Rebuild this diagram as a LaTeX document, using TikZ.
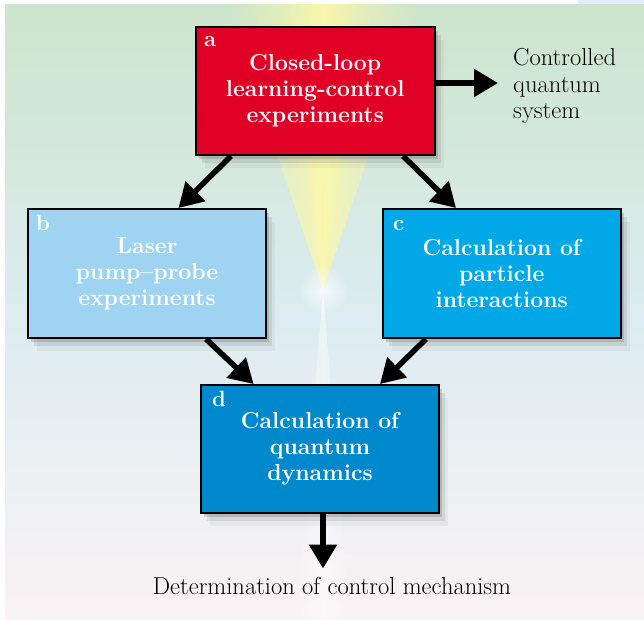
\documentclass[tikz,border=0pt]{standalone}
\usetikzlibrary{arrows.meta,shadows,fadings,calc}
\definecolor{redbox}{RGB}{224,0,37}
\definecolor{bbox}{RGB}{158,212,242}
\definecolor{cbox}{RGB}{0,168,232}
\definecolor{dbox}{RGB}{0,136,204}
\definecolor{bgtop}{RGB}{204,229,204}
\definecolor{bgmid}{RGB}{220,236,240}
\definecolor{bgbot}{RGB}{250,243,244}
\definecolor{beam}{RGB}{252,248,170}
\definecolor{corner}{RGB}{225,238,248}
\tikzfading[name=beamfade, left color=transparent!100, right color=transparent!100, middle color=transparent!0]
\tikzfading[name=glowfade, inner color=transparent!0, outer color=transparent!100]
\begin{document}
\begin{tikzpicture}[x=1pt,y=-1pt,
  shadowed/.style={
    drop shadow={shadow xshift=3pt,shadow yshift=-4pt,opacity=.22,fill=black!70},
    drop shadow={shadow xshift=6pt,shadow yshift=-8pt,opacity=.14,fill=black!60},
    drop shadow={shadow xshift=9pt,shadow yshift=-13pt,opacity=.07,fill=black!60}},
  stagebox/.style={draw=black, line width=2pt, shadowed, text=white, align=center,
    font=\fontsize{23}{26}\selectfont\bfseries, inner sep=0pt},
  letterlab/.style={text=white, font=\fontsize{22}{26}\selectfont\bfseries, inner sep=0pt, anchor=base west},
  plain/.style={text=black, font=\fontsize{24.5}{26.5}\selectfont, inner sep=0pt},
  bigarrow/.style={line width=5.5pt, -{Triangle[width=27pt,length=24pt]}}]
% background
\useasboundingbox (0,0) rectangle (644,619);
\fill[white] (0,0) rectangle (644,619);
\shade[top color=bgtop, bottom color=bgbot, middle color=bgmid] (5,4) rectangle (644,619);
\fill[corner] (578,0) rectangle (644,4);
\fill[beam, opacity=.8, path fading=beamfade] (323,290) -- (226,4) -- (420,4) -- cycle;
\fill[beam, opacity=.6, path fading=beamfade] (323,290) -- (283,4) -- (363,4) -- cycle;
\fill[white, opacity=.45, path fading=beamfade] (323,290) -- (296,619) -- (350,619) -- cycle;
\fill[white, opacity=.7, path fading=glowfade] (323,290) circle (26);

% boxes
\node[stagebox, fill=redbox, minimum width=238.5pt, minimum height=128pt] (a) at (315.25,91)
  {Closed-loop\\learning-control\\experiments};
\node[stagebox, fill=bbox, minimum width=238pt, minimum height=129pt] (b) at (147,273.5)
  {Laser\\pump--probe\\experiments};
\node[stagebox, fill=cbox, minimum width=237.5pt, minimum height=129pt] (c) at (501.75,273.5)
  {Calculation of\\particle\\interactions};
\node[stagebox, fill=dbox, minimum width=238pt, minimum height=128pt] (d) at (320,449)
  {Calculation of\\quantum\\dynamics};

\node[letterlab] (la) at ([xshift=9pt,yshift=-20pt]a.north west) {a};
\node[letterlab] (lb) at ([xshift=9pt,yshift=-22pt]b.north west) {b};
\node[letterlab] (lc) at ([xshift=11pt,yshift=-22pt]c.north west) {c};
\node[letterlab] (ld) at ([xshift=12pt,yshift=-22pt]d.north west) {d};

% outside texts
\node[plain, anchor=west, align=left] (ctrl) at (513,86) {Controlled\\quantum\\system};
\node[plain, anchor=base] (det) at (332,594) {Determination of control mechanism};

% connectors
\coordinate (tipR) at (498,83);
\coordinate (tipD) at (323,568.5);
\draw[bigarrow] (a.east |- tipR) -- (tipR);
\draw[bigarrow] ([xshift=36pt]a.south west) -- ([xshift=151.5pt]b.north west);
\draw[bigarrow] ([xshift=208pt]a.south west) -- ([xshift=74pt]c.north west);
\draw[bigarrow] ([xshift=179pt]b.south west) -- ([xshift=53.6pt]d.north west);
\draw[bigarrow] ([xshift=44pt]c.south west) -- ([xshift=180pt]d.north west);
\draw[bigarrow] (d.south -| tipD) -- (tipD);
\end{tikzpicture}
\end{document}
